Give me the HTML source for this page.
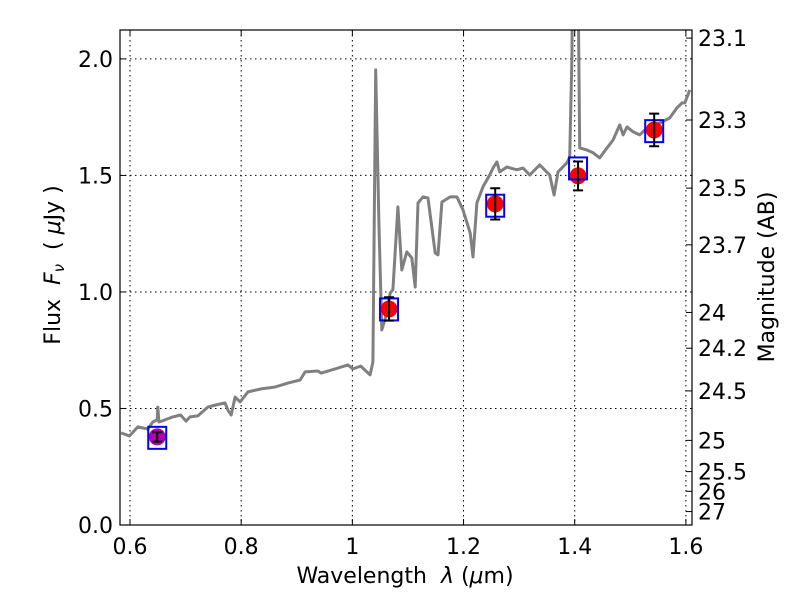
<!DOCTYPE html>
<html><head><meta charset="utf-8"><style>
html,body{margin:0;padding:0;background:#fff;}
svg text{font-family:"DejaVu Sans","Liberation Sans",sans-serif;fill:#000;}
.pre{white-space:pre;}
</style></head><body>
<svg id="chart" width="800" height="600" viewBox="0 0 800 600" xmlns="http://www.w3.org/2000/svg">
<rect width="800" height="600" fill="#fff"/>
<defs><clipPath id="plotclip"><rect x="120" y="30" width="572" height="495"/></clipPath></defs>
<g id="grid"></g>
<g id="spectrum-layer" clip-path="url(#plotclip)"></g>
<g id="points"></g>
<rect x="120" y="30" width="572" height="495" fill="none" stroke="#000" stroke-width="1.2"/>
<g id="axes"></g>
<text class="pre" x="405" y="583" font-size="22" text-anchor="middle">Wavelength  <tspan font-style="italic">λ</tspan> (<tspan font-style="italic">μ</tspan>m)</text>
<text class="pre" transform="translate(60,265) rotate(-90)" font-size="22" text-anchor="middle">Flux  <tspan font-style="italic">F</tspan><tspan font-style="italic" font-size="15" dy="4">ν</tspan><tspan dy="-4">  ( </tspan><tspan font-style="italic">μ</tspan>Jy )</text>
<text transform="translate(774,277) rotate(-90)" font-size="22" text-anchor="middle">Magnitude (AB)</text>
</svg>
<script>
const specLam=[0.584,0.599,0.614,0.632,0.641,0.649,0.650,0.652,0.663,0.677,0.691,0.701,0.708,0.722,0.740,0.754,0.771,0.776,0.782,0.789,0.798,0.812,0.836,0.861,0.884,0.906,0.915,0.938,0.944,0.969,0.992,1.001,1.015,1.032,1.037,1.042,1.048,1.053,1.062,1.068,1.073,1.082,1.089,1.098,1.107,1.113,1.118,1.127,1.136,1.149,1.154,1.161,1.176,1.188,1.199,1.212,1.217,1.224,1.235,1.247,1.253,1.260,1.265,1.278,1.296,1.307,1.319,1.337,1.355,1.363,1.370,1.386,1.391,1.395,1.397,1.405,1.409,1.422,1.433,1.445,1.458,1.469,1.481,1.487,1.494,1.505,1.517,1.530,1.553,1.571,1.584,1.593,1.598,1.607];
const specFlux=[0.395,0.382,0.421,0.412,0.442,0.451,0.506,0.442,0.451,0.464,0.472,0.446,0.464,0.468,0.506,0.515,0.524,0.494,0.472,0.549,0.528,0.571,0.584,0.592,0.609,0.622,0.657,0.661,0.652,0.670,0.687,0.670,0.682,0.644,0.700,1.953,1.279,0.837,0.910,0.996,1.009,1.365,1.094,1.172,1.146,1.021,1.382,1.408,1.403,1.167,1.159,1.386,1.408,1.408,1.352,1.253,1.150,1.382,1.451,1.502,1.532,1.558,1.515,1.536,1.524,1.532,1.502,1.545,1.502,1.416,1.515,1.554,1.579,2.004,2.6,2.6,1.618,1.609,1.597,1.575,1.618,1.652,1.717,1.674,1.708,1.687,1.674,1.704,1.725,1.747,1.790,1.811,1.811,1.867];
const ptLam=[0.649,1.066,1.257,1.406,1.543];
const ptFlux=[0.378,0.927,1.378,1.498,1.695];
const ptErr=[0.02,0.05,0.067,0.062,0.07];
const modelFlux=[0.374,0.925,1.37,1.53,1.69];
const ptColors=['#b000b0','#ff0000','#ff0000','#ff0000','#ff0000'];
const xTicks=[0.6,0.8,1.0,1.2,1.4,1.6];
const xTickLabels=['0.6','0.8','1','1.2','1.4','1.6'];
const yTicks=[0,0.5,1.0,1.5,2.0];
const yTickLabels=['0.0','0.5','1.0','1.5','2.0'];
const magTicks=[23.1,23.3,23.5,23.7,24,24.2,24.5,25,25.5,26,27];
const magLabels=['23.1','23.3','23.5','23.7','24','24.2','24.5','25','25.5','26','27'];

const L=120,R=692,T=30,B=525;
const X0=0.582,X1=1.611,Y0=0,Y1=2.124;
const sx=v=>L+(v-X0)/(X1-X0)*(R-L);
const sy=v=>B-(v-Y0)/(Y1-Y0)*(B-T);
const NS='http://www.w3.org/2000/svg';
function mk(tag,attrs,parent){const e=document.createElementNS(NS,tag);for(const k in attrs)e.setAttribute(k,attrs[k]);parent.appendChild(e);return e;}
const grid=document.getElementById('grid'),axes=document.getElementById('axes');
xTicks.forEach((t,i)=>{
  const x=sx(t);
  const g=mk('line',{x1:x,x2:x,y1:T,y2:B,stroke:'#000','stroke-width':1,'stroke-dasharray':'1.5,3.5'},grid);
  
  
  mk('line',{x1:x,x2:x,y1:B,y2:B-6,stroke:'#000'},axes);
  mk('line',{x1:x,x2:x,y1:T,y2:T+6,stroke:'#000'},axes);
  const tx=mk('text',{x:x,y:B+29,'font-size':22,'text-anchor':'middle'},axes);
  tx.textContent=xTickLabels[i];
  
  
});
yTicks.forEach((t,i)=>{
  const y=sy(t);
  const g=mk('line',{x1:L,x2:R,y1:y,y2:y,stroke:'#000','stroke-width':1,'stroke-dasharray':'1.5,3.5'},grid);
  
  
  mk('line',{x1:L,x2:L+6,y1:y,y2:y,stroke:'#000'},axes);
  const tx=mk('text',{x:L-7,y:y+8,'font-size':22,'text-anchor':'end'},axes);
  tx.textContent=yTickLabels[i];
  
  
});
magTicks.forEach((m,i)=>{
  const f=Math.pow(10,-(m-23.9)/2.5);
  const y=sy(f);
  mk('line',{x1:R,x2:R-6,y1:y,y2:y,stroke:'#000'},axes);
  const tx=mk('text',{x:R+6,y:y+8,'font-size':22,'text-anchor':'start'},axes);
  tx.textContent=magLabels[i];
  
  
});
const spec=document.getElementById('spectrum-layer');
const d=specLam.map((l,i)=>(i?'L':'M')+sx(l).toFixed(1)+','+sy(specFlux[i]).toFixed(1)).join(' ');
const p=mk('path',{d:d,fill:'none',stroke:'#808080','stroke-width':3,'stroke-linejoin':'round'},spec);


const pts=document.getElementById('points');
ptLam.forEach((l,i)=>{
  const x=sx(l),y=sy(ptFlux[i]);
  const c=mk('circle',{cx:x,cy:y,r:8.5,fill:ptColors[i]},pts);
  
  
  const my=sy(modelFlux[i]);
  const b=mk('rect',{x:x-9,y:my-11,width:18,height:22,fill:'none',stroke:'#0000ff','stroke-width':2},pts);
  
  
  const y1=sy(ptFlux[i]+ptErr[i]),y2=sy(ptFlux[i]-ptErr[i]);
  const eb=mk('path',{d:`M${x},${y1} L${x},${y2} M${x-5},${y1} L${x+5},${y1} M${x-5},${y2} L${x+5},${y2}`,stroke:'#000','stroke-width':2,fill:'none'},pts);
  
  
});
</script>
</body></html>
